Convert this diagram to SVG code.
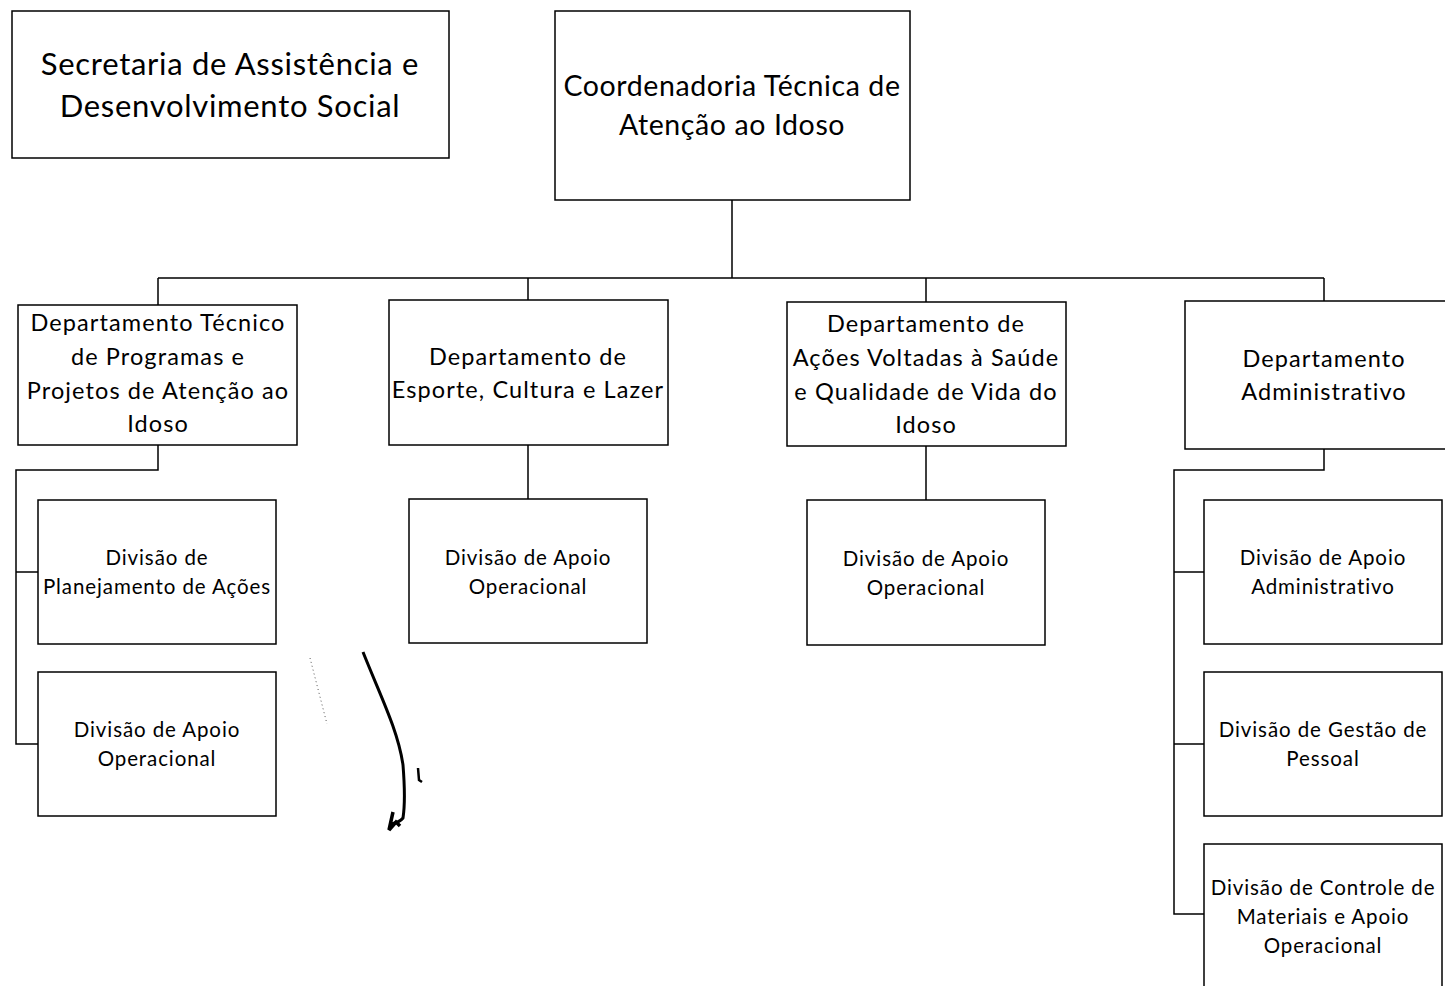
<svg xmlns="http://www.w3.org/2000/svg" width="1445" height="986" viewBox="0 0 1445 986">
<style>
.box{fill:#fff;stroke:#000;stroke-width:1.5}
.con{fill:none;stroke:#000;stroke-width:1.5}
text{font-family:Lato,"Liberation Sans",sans-serif;fill:#000;text-anchor:middle}
.t1{font-size:31px;letter-spacing:0.7px}
.t2{font-size:28.5px;letter-spacing:0.6px}
.t3{font-size:23.5px;letter-spacing:1.1px}
.t4{font-size:20.5px;letter-spacing:0.9px}
</style>
<rect width="1445" height="986" fill="#fff"/>
<g id="connectors">
<path class="con" d="M732,200V278M158,278H1324M158,278V305M528,278V300M926,278V302M1324,278V301"/>
<path class="con" d="M158,445V470H16V744H38M16,572H38"/>
<path class="con" d="M528,445V499M926,446V500"/>
<path class="con" d="M1324,449V470H1174V914H1204M1174,572H1204M1174,744H1204"/>
</g>
<g id="secretaria"><rect class="box" x="12" y="11" width="437" height="147"/>
<text class="t1" x="230" y="75">Secretaria de Assistência e</text>
<text class="t1" x="230" y="117">Desenvolvimento Social</text></g>
<g id="coordenadoria"><rect class="box" x="555" y="11" width="355" height="189"/>
<text class="t2" x="732" y="96">Coordenadoria Técnica de</text>
<text class="t2" x="732" y="135">Atenção ao Idoso</text></g>
<g id="dept1"><rect class="box" x="18" y="305" width="279" height="140"/>
<text class="t3" x="158" y="331">Departamento Técnico</text>
<text class="t3" x="158" y="365">de Programas e</text>
<text class="t3" x="158" y="399">Projetos de Atenção ao</text>
<text class="t3" x="158" y="432">Idoso</text></g>
<g id="dept2"><rect class="box" x="389" y="300" width="279" height="145"/>
<text class="t3" x="528" y="365">Departamento de</text>
<text class="t3" x="528" y="398">Esporte, Cultura e Lazer</text></g>
<g id="dept3"><rect class="box" x="787" y="302" width="279" height="144"/>
<text class="t3" x="926" y="332">Departamento de</text>
<text class="t3" x="926" y="366">Ações Voltadas à Saúde</text>
<text class="t3" x="926" y="400">e Qualidade de Vida do</text>
<text class="t3" x="926" y="433">Idoso</text></g>
<g id="dept4"><rect class="box" x="1185" y="301" width="270" height="148"/>
<text class="t3" x="1324" y="367">Departamento</text>
<text class="t3" x="1324" y="400">Administrativo</text></g>
<g id="div1a"><rect class="box" x="38" y="500" width="238" height="144"/>
<text class="t4" x="157" y="565">Divisão de</text>
<text class="t4" x="157" y="594">Planejamento de Ações</text></g>
<g id="div1b"><rect class="box" x="38" y="672" width="238" height="144"/>
<text class="t4" x="157" y="737">Divisão de Apoio</text>
<text class="t4" x="157" y="766">Operacional</text></g>
<g id="div2"><rect class="box" x="409" y="499" width="238" height="144"/>
<text class="t4" x="528" y="565">Divisão de Apoio</text>
<text class="t4" x="528" y="594">Operacional</text></g>
<g id="div3"><rect class="box" x="807" y="500" width="238" height="145"/>
<text class="t4" x="926" y="566">Divisão de Apoio</text>
<text class="t4" x="926" y="595">Operacional</text></g>
<g id="div4a"><rect class="box" x="1204" y="500" width="238" height="144"/>
<text class="t4" x="1323" y="565">Divisão de Apoio</text>
<text class="t4" x="1323" y="594">Administrativo</text></g>
<g id="div4b"><rect class="box" x="1204" y="672" width="238" height="144"/>
<text class="t4" x="1323" y="737">Divisão de Gestão de</text>
<text class="t4" x="1323" y="766">Pessoal</text></g>
<g id="div4c"><rect class="box" x="1204" y="844" width="238" height="160"/>
<text class="t4" x="1323" y="895">Divisão de Controle de</text>
<text class="t4" x="1323" y="924">Materiais e Apoio</text>
<text class="t4" x="1323" y="953">Operacional</text></g>
<g id="handmark">
<path d="M363,652C380,695 398,730 403,765C405,790 405,805 403,818C400,822 396,823 391,824" fill="none" stroke="#000" stroke-width="3"/>
<path d="M393,812L389,830L396,822L400,826" fill="none" stroke="#000" stroke-width="3.5"/>
<path d="M418,768L419,780L422,782" fill="none" stroke="#000" stroke-width="2.5"/>
<path d="M310,658L327,724" fill="none" stroke="#555" stroke-width="1" stroke-dasharray="1,3"/>
</g>
</svg>
